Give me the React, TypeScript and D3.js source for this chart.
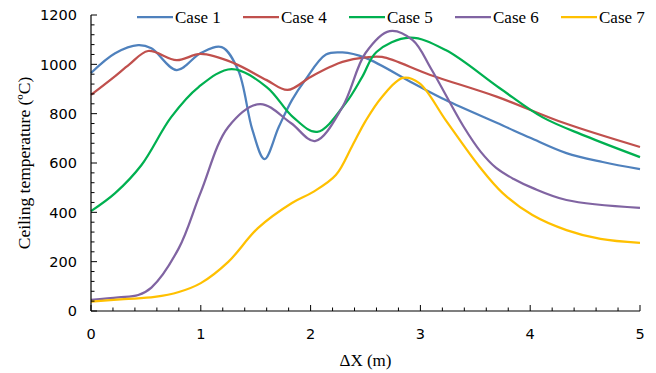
import * as d3 from "d3";
import { useEffect, useRef } from "react";

type Pt = [number, number];

const seriesNames = ["Case 1", "Case 4", "Case 5", "Case 6", "Case 7"];
const seriesColors = ["#4F81BD", "#C0504D", "#00B050", "#8064A2", "#FFC000"];

const case1X = [0, 0.22, 0.43, 0.55, 0.78, 1.0, 1.19, 1.34, 1.47, 1.58, 1.71, 1.83, 1.95, 2.14, 2.29, 2.5, 2.93, 3.23, 3.75, 4.0, 4.33, 4.66, 5.0];
const case1T = [965, 1045, 1078, 1065, 977, 1046, 1070, 977, 734, 616, 746, 855, 936, 1040, 1048, 1026, 924, 855, 752, 702, 640, 604, 575];

const case4X = [0, 0.2, 0.35, 0.52, 0.78, 1.0, 1.3, 1.6, 1.79, 2.0, 2.18, 2.29, 2.5, 2.65, 3.09, 3.7, 4.31, 5.0];
const case4T = [876, 945, 1000, 1054, 1017, 1042, 1005, 936, 896, 949, 990, 1010, 1028, 1030, 957, 868, 762, 665];

const case5X = [0, 0.22, 0.46, 0.73, 0.98, 1.28, 1.6, 1.84, 2.06, 2.32, 2.47, 2.6, 2.9, 3.23, 3.72, 4.11, 4.5, 5.0];
const case5T = [405, 478, 592, 786, 908, 981, 908, 786, 726, 843, 949, 1050, 1108, 1058, 904, 786, 710, 624];

const case6X = [0, 0.25, 0.43, 0.55, 0.8, 1.0, 1.25, 1.54, 1.82, 2.04, 2.29, 2.5, 2.72, 2.93, 3.1, 3.39, 3.55, 3.69, 3.85, 4.02, 4.33, 5.0];
const case6T = [45, 55, 65, 95, 255, 482, 746, 839, 762, 689, 827, 1046, 1135, 1098, 980, 750, 645, 580, 535, 499, 450, 418];

const case7X = [0, 0.3, 0.58, 0.8, 1.0, 1.25, 1.52, 1.83, 2.02, 2.23, 2.38, 2.5, 2.65, 2.84, 2.99, 3.23, 3.54, 3.75, 4.02, 4.33, 4.64, 5.0];
const case7T = [38, 48, 57, 77, 113, 199, 336, 438, 482, 551, 670, 770, 868, 945, 924, 774, 584, 478, 389, 328, 292, 276];

const xTicks = [0, 1, 2, 3, 4, 5];
const yTicks = [0, 200, 400, 600, 800, 1000, 1200];

const allX = [case1X, case4X, case5X, case6X, case7X];
const allT = [case1T, case4T, case5T, case6T, case7T];

const serif = "'Liberation Serif', 'Times New Roman', serif";
const sans = "'DejaVu Sans', sans-serif";

export default function App() {
  const svgRef = useRef<SVGSVGElement>(null);
  const w = 656;
  const h = 373;
  const margin = { top: 15, right: 16, bottom: 62, left: 91 };

  useEffect(() => {
    if (!svgRef.current) return;
    const innerW = w - margin.left - margin.right;
    const innerH = h - margin.top - margin.bottom;

    const x = d3.scaleLinear().domain([0, 5]).range([0, innerW]);
    const y = d3.scaleLinear().domain([0, 1200]).range([innerH, 0]);

    const svg = d3.select(svgRef.current);
    svg.selectAll("*").remove();
    const g = svg.append("g").attr("transform", `translate(${margin.left},${margin.top})`);

    // Lines
    const line = d3
      .line<Pt>()
      .x((d) => x(d[0]))
      .y((d) => y(d[1]))
      .curve(d3.curveCatmullRom.alpha(0.5));

    allX.forEach((xs, i) => {
      const pts: Pt[] = xs.map((v, j) => [v, allT[i][j]]);
      g.append("path")
        .attr("d", line(pts) ?? "")
        .attr("fill", "none")
        .attr("stroke", seriesColors[i])
        .attr("stroke-width", 2.25)
        .attr("stroke-linejoin", "round");
    });

    // Axes
    const axisColor = "#000";
    g.append("line").attr("x1", 0).attr("x2", 0).attr("y1", 0).attr("y2", innerH).attr("stroke", axisColor).attr("stroke-width", 1.2);
    g.append("line").attr("x1", 0).attr("x2", innerW).attr("y1", innerH).attr("y2", innerH).attr("stroke", axisColor).attr("stroke-width", 1.2);

    // minor every 40 / 0.2, major longer, pointing inward
    d3.range(0, 1201, 40).forEach((v) => {
      const major = v % 200 === 0;
      g.append("line")
        .attr("x1", 0)
        .attr("x2", major ? 6 : 3.5)
        .attr("y1", y(v))
        .attr("y2", y(v))
        .attr("stroke", axisColor)
        .attr("stroke-width", 1);
    });
    d3.range(0, 5.01, 0.2).forEach((v) => {
      const major = Math.abs(v - Math.round(v)) < 1e-6;
      g.append("line")
        .attr("x1", x(v))
        .attr("x2", x(v))
        .attr("y1", innerH)
        .attr("y2", innerH - (major ? 6 : 3.5))
        .attr("stroke", axisColor)
        .attr("stroke-width", 1);
    });

    yTicks.forEach((v) => {
      g.append("text")
        .attr("x", -14)
        .attr("y", y(v))
        .attr("dy", "0.36em")
        .attr("text-anchor", "end")
        .attr("font-family", sans)
        .attr("font-size", 14.5)
        .attr("fill", "#000")
        .text(v);
    });
    xTicks.forEach((v) => {
      g.append("text")
        .attr("x", x(v))
        .attr("y", innerH + 28)
        .attr("text-anchor", "middle")
        .attr("font-family", sans)
        .attr("font-size", 14.5)
        .attr("fill", "#000")
        .text(v);
    });

    // Axis titles
    svg.append("text")
      .attr("x", margin.left + innerW / 2)
      .attr("y", 366)
      .attr("text-anchor", "middle")
      .attr("font-family", serif)
      .attr("font-size", 17)
      .text("ΔX (m)");
    svg.append("text")
      .attr("transform", `translate(30,${margin.top + innerH / 2}) rotate(-90)`)
      .attr("text-anchor", "middle")
      .attr("font-family", serif)
      .attr("font-size", 17.5)
      .text("Ceiling temperature (ºC)");

    // Legend
    const legendX = [137, 243, 349, 455, 561];
    seriesNames.forEach((name, i) => {
      const lg = svg.append("g").attr("transform", `translate(${legendX[i]},17)`);
      lg.append("line").attr("x1", 0).attr("x2", 36).attr("y1", 0).attr("y2", 0).attr("stroke", seriesColors[i]).attr("stroke-width", 2.25);
      lg.append("text")
        .attr("x", 38)
        .attr("y", 0)
        .attr("dy", "0.34em")
        .attr("font-family", serif)
        .attr("font-size", 17)
        .text(name);
    });
  }, []);

  return (
    <svg
      ref={svgRef}
      width={w}
      height={h}
      viewBox={`0 0 ${w} ${h}`}
      style={{ position: "absolute", left: 0, top: 0, background: "#fff" }}
    />
  );
}
